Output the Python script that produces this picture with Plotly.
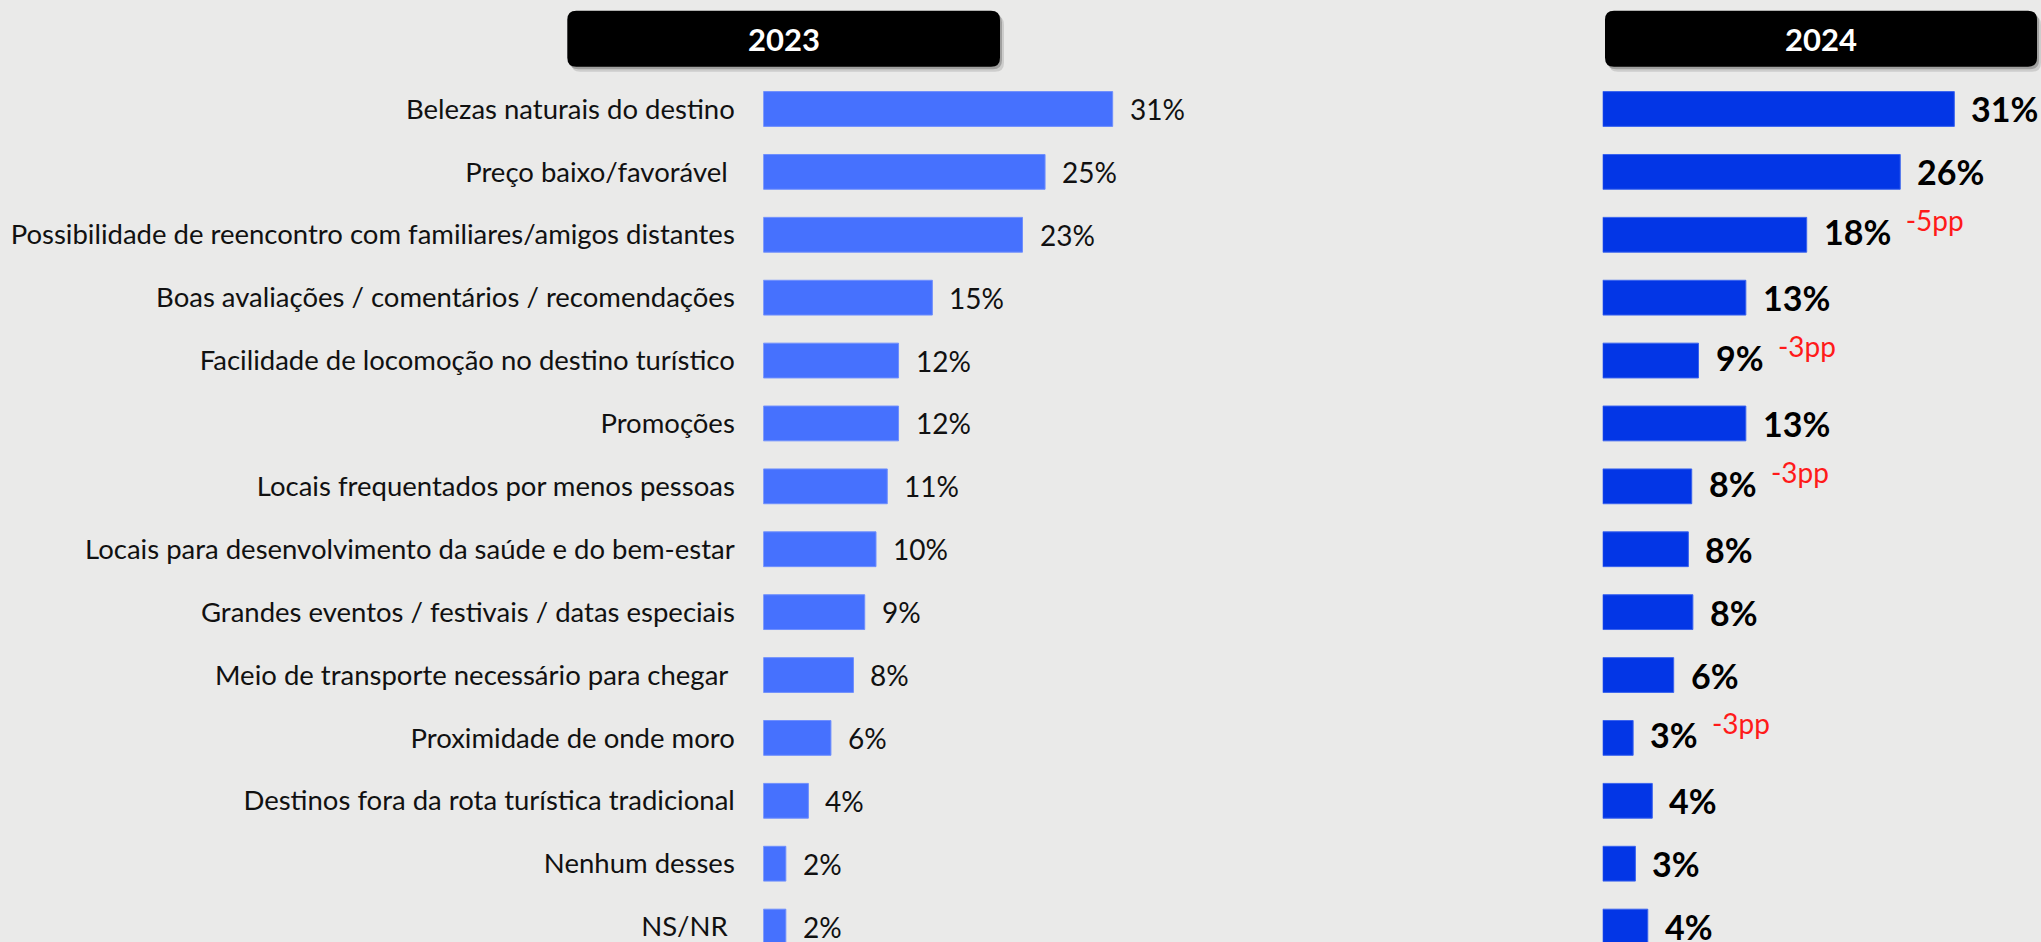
import plotly.graph_objects as go

W, H = 2041, 942

categories = [
    "Belezas naturais do destino",
    "Preço baixo/favorável\u00a0",
    "Possibilidade de reencontro com familiares/amigos distantes",
    "Boas avaliações / comentários / recomendações",
    "Facilidade de locomoção no destino turístico",
    "Promoções",
    "Locais frequentados por menos pessoas",
    "Locais para desenvolvimento da saúde e do bem-estar",
    "Grandes eventos / festivais / datas especiais",
    "Meio de transporte necessário para chegar\u00a0",
    "Proximidade de onde moro",
    "Destinos fora da rota turística tradicional",
    "Nenhum desses",
    "NS/NR\u00a0",
]
values_2023 = [31, 25, 23, 15, 12, 12, 11, 10, 9, 8, 6, 4, 2, 2]
values_2024 = [31.2, 26.4, 18.1, 12.7, 8.5, 12.7, 7.9, 7.6, 8.0, 6.3, 2.7, 4.4, 2.9, 4.0]
labels_2024 = [31, 26, 18, 13, 9, 13, 8, 8, 8, 6, 3, 4, 3, 4]
deltas_2024 = ["", "", "-5pp", "", "-3pp", "", "-3pp", "", "", "", "-3pp", "", "", ""]
headers = ["2023", "2024"]

BLUE_2023 = "#4671FE"
BLUE_2024 = "#0336E6"
BG = "#eaeae9"
FONT = "Lato"

# pixel helpers (layout only)
def px(x):
    return x / W


def py(y):
    return 1 - y / H


def rounded_rect(x0, y0, x1, y1, r):
    return (
        f"M {px(x0 + r)},{py(y0)} L {px(x1 - r)},{py(y0)} "
        f"Q {px(x1)},{py(y0)} {px(x1)},{py(y0 + r)} "
        f"L {px(x1)},{py(y1 - r)} Q {px(x1)},{py(y1)} {px(x1 - r)},{py(y1)} "
        f"L {px(x0 + r)},{py(y1)} Q {px(x0)},{py(y1)} {px(x0)},{py(y1 - r)} "
        f"L {px(x0)},{py(y0 + r)} Q {px(x0)},{py(y0)} {px(x0 + r)},{py(y0)} Z"
    )


scale = 11.27  # px per percentage point
left_x0, right_x0 = 763.3, 1602.7
left_range, right_range = 45, 38

fig = go.Figure()
fig.add_trace(go.Bar(
    y=categories, x=values_2023, orientation="h", width=0.553,
    marker=dict(color=BLUE_2023, line=dict(color="#6f8ffd", width=1)),
    xaxis="x", yaxis="y", hoverinfo="skip",
))
fig.add_trace(go.Bar(
    y=categories, x=values_2024, orientation="h", width=0.553,
    marker=dict(color=BLUE_2024, line=dict(color="#3a63ee", width=1)),
    xaxis="x2", yaxis="y", hoverinfo="skip",
))

annotations = []
for cat, v in zip(categories, values_2023):
    annotations.append(dict(
        x=v, y=cat, xref="x", yref="y", xanchor="left", yanchor="middle",
        xshift=15, text=f"{v}%", showarrow=False,
        font=dict(family=FONT, size=28, color="#111111"),
    ))
for cat, v, lab, d in zip(categories, values_2024, labels_2024, deltas_2024):
    txt = f"<b>{lab}%</b>"
    yshift = 0
    if d:
        txt += f"<sup><span style='color:#FF1A1A;font-size:28px'>  {d}</span></sup>"
        yshift = 7
    annotations.append(dict(
        x=v, y=cat, xref="x2", yref="y", xanchor="left", yanchor="middle",
        xshift=15, yshift=yshift, text=txt, showarrow=False,
        font=dict(family=FONT, size=34, color="#000000"),
    ))

shapes = []
header_boxes = [(567.3, 10.7, 1000.0, 66.7), (1605.0, 10.7, 2037.0, 66.7)]
for (x0, y0, x1, y1), title in zip(header_boxes, headers):
    shapes.append(dict(type="path", xref="paper", yref="paper", layer="below",
                       path=rounded_rect(x0 + 4, y0 + 5, x1 + 4, y1 + 5, 9),
                       fillcolor="rgba(0,0,0,0.12)", line=dict(width=0)))
    shapes.append(dict(type="path", xref="paper", yref="paper", layer="below",
                       path=rounded_rect(x0 + 2, y0 + 2.5, x1 + 2, y1 + 2.5, 9),
                       fillcolor="rgba(0,0,0,0.22)", line=dict(width=0)))
    shapes.append(dict(type="path", xref="paper", yref="paper", layer="below",
                       path=rounded_rect(x0, y0, x1, y1, 9),
                       fillcolor="#000000", line=dict(width=0)))
    annotations.append(dict(
        x=px((x0 + x1) / 2), y=py((y0 + y1) / 2), xref="paper", yref="paper",
        xanchor="center", yanchor="middle", text=f"<b>{title}</b>",
        showarrow=False, font=dict(family=FONT, size=31, color="#ffffff"),
    ))

fig.update_layout(
    width=W, height=H,
    margin=dict(l=0, r=0, t=0, b=0),
    paper_bgcolor=BG, plot_bgcolor="rgba(0,0,0,0)",
    showlegend=False,
    xaxis=dict(domain=[px(left_x0), px(left_x0 + scale * left_range)],
               range=[0, left_range], visible=False, fixedrange=True),
    xaxis2=dict(domain=[px(right_x0), px(right_x0 + scale * right_range)],
                range=[0, right_range], visible=False, anchor="y", fixedrange=True),
    yaxis=dict(
        type="category", categoryorder="array", categoryarray=categories,
        range=[13.245, -1.733], showgrid=False, zeroline=False, showline=False,
        ticks="outside", ticklen=22, tickcolor="rgba(0,0,0,0)", automargin=False,
        tickfont=dict(family=FONT, size=27.5, color="#111111"), fixedrange=True,
    ),
    annotations=annotations,
    shapes=shapes,
)

fig.write_html(
    "out.html",
    config={"displayModeBar": False},
    post_script="document.body.style.margin='0';document.body.style.overflow='hidden';",
)
